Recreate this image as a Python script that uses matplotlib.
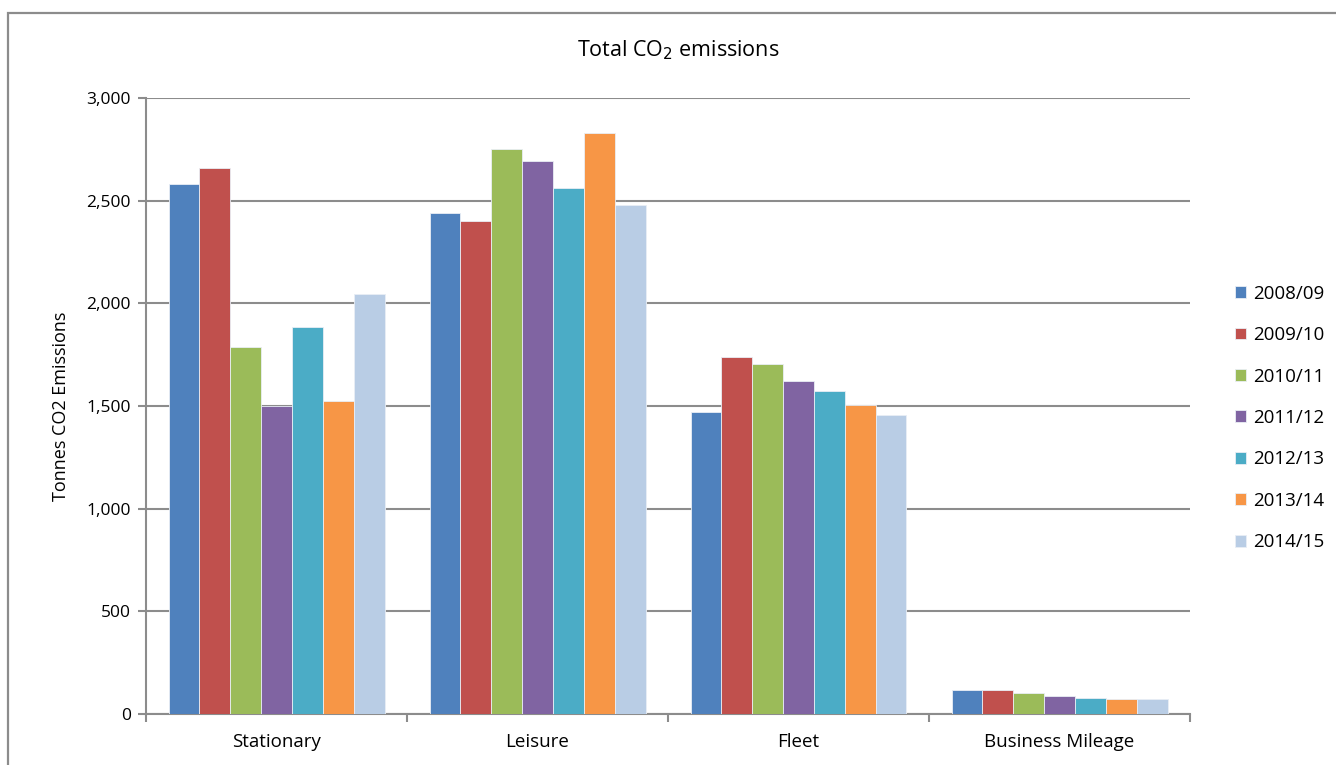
import matplotlib
matplotlib.use('Agg')
import matplotlib.pyplot as plt
from matplotlib.patches import Rectangle
from matplotlib.ticker import FuncFormatter
import numpy as np

plt.rcParams['font.family'] = ['Open Sans', 'DejaVu Sans']

categories = ['Stationary', 'Leisure', 'Fleet', 'Business Mileage']
years = ['2008/09', '2009/10', '2010/11', '2011/12', '2012/13', '2013/14', '2014/15']

# tonnes CO2 per year, one list per category group
stationary = [2582, 2660, 1786, 1502, 1883, 1526, 2044]
leisure = [2441, 2403, 2752, 2693, 2562, 2828, 2481]
fleet = [1471, 1737, 1704, 1620, 1571, 1503, 1455]
business_mileage = [118, 117, 102, 89, 79, 71, 75]

colors = ['#4F81BD', '#C0504D', '#9BBB59', '#8064A2', '#4BACC6', '#F79646', '#B9CDE5']

W, H = 1336, 765
fig = plt.figure(figsize=(W / 100, H / 100), dpi=100)

# chart frame (only top and left edges fall inside the image)
fig.patches.append(Rectangle((8 / W, -0.1), 1.2, (H - 13) / H + 0.1,
                             transform=fig.transFigure, fill=False,
                             edgecolor='#8C8C8C', linewidth=1.6))

ax = fig.add_axes([146 / W, (H - 714) / H, (1190 - 146) / W, (714 - 98) / H])

data = np.array([stationary, leisure, fleet, business_mileage])
n_cat, n_ser = data.shape
group = 216 / 261
bw = group / n_ser
x = np.arange(n_cat)
for i in range(n_ser):
    ax.bar(x - group / 2 + bw * (i + 0.5), data[:, i], width=bw,
           color=colors[i], edgecolor='#E9EEF5', linewidth=0.6,
           label=years[i], zorder=3)

ax.set_xlim(-0.5, n_cat - 0.5)
ax.set_ylim(0, 3000)
ax.set_yticks(np.arange(0, 3001, 500))
ax.yaxis.set_major_formatter(FuncFormatter(lambda v, p: f'{int(v):,}'))
ax.yaxis.grid(True, color='#8C8C8C', linewidth=1.5, zorder=0)

ax.set_xticks(x)
ax.set_xticklabels(categories)
ax.set_xticks(np.arange(-0.5, n_cat), minor=True)
ax.tick_params(axis='x', which='major', length=0, pad=14, labelsize=13.5)
ax.tick_params(axis='x', which='minor', length=6, width=1.5, color='#8C8C8C',
               direction='out')
ax.tick_params(axis='y', length=6, width=1.5, color='#8C8C8C', labelsize=12.5,
               pad=5)

for s in ['top', 'right']:
    ax.spines[s].set_visible(False)
for s in ['left', 'bottom']:
    ax.spines[s].set_color('#8C8C8C')
    ax.spines[s].set_linewidth(1.5)

ax.set_ylabel('Tonnes CO2 Emissions', fontsize=13, labelpad=12)
fig.text(678 / W, 1 - 50 / H, 'Total CO$_2$ emissions', ha='center', va='center',
         fontsize=15.5)

ax.legend(loc='center left', bbox_to_anchor=(1227 / W, 0.5 + (H / 2 - 418) / H),
          bbox_transform=fig.transFigure, frameon=False, fontsize=13.5,
          handlelength=0.6, handleheight=0.6, handletextpad=0.4,
          labelspacing=1.25, borderaxespad=0)

fig.savefig('out.png', dpi=100)
